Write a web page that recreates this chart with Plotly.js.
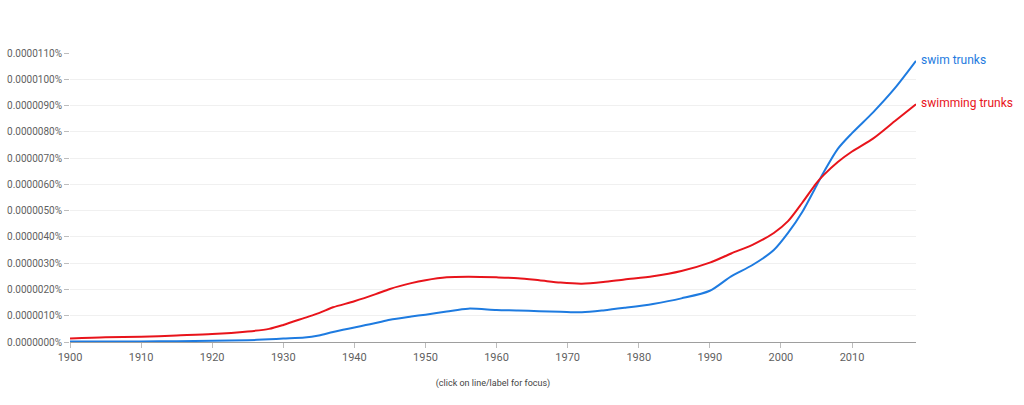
<!DOCTYPE html>
<html>
<head>
<meta charset="utf-8">
<script src="https://cdn.plot.ly/plotly-3.0.1.min.js"></script>
<style>
  html, body { margin: 0; padding: 0; background: #fff; }
  #grafica { width: 1024px; height: 405px; }
</style>
</head>
<body>
<div id="grafica"></div>
<script>
// años
const anios = [1900, 1905, 1910, 1915, 1920, 1925, 1928, 1930, 1933, 1935, 1937, 1940, 1943, 1945, 1948,
    1950, 1953, 1956, 1960, 1963, 1966, 1969, 1972, 1975, 1978, 1982, 1986, 1990, 1993, 1996, 1999,
    2001, 2003, 2005, 2006, 2008, 2010, 2013, 2016, 2019];

// valores en millonésimas de porcentaje (x 1e-6 %)
const swimTrunks = [0.02, 0.02, 0.02, 0.03, 0.05, 0.07, 0.10, 0.13, 0.17, 0.25, 0.38, 0.55, 0.72, 0.85, 0.97,
    1.04, 1.16, 1.27, 1.22, 1.20, 1.17, 1.15, 1.13, 1.20, 1.30, 1.45, 1.66, 1.95, 2.50, 2.93, 3.50,
    4.15, 4.95, 5.95, 6.45, 7.35, 7.95, 8.75, 9.65, 10.70];

const swimmingTrunks = [0.13, 0.18, 0.20, 0.25, 0.30, 0.40, 0.50, 0.65, 0.92, 1.10, 1.32, 1.55, 1.82, 2.02, 2.24,
    2.35, 2.46, 2.48, 2.46, 2.43, 2.35, 2.26, 2.22, 2.28, 2.38, 2.50, 2.70, 3.02, 3.37, 3.70, 4.15,
    4.60, 5.30, 6.05, 6.35, 6.85, 7.25, 7.75, 8.40, 9.05];

const nombres = ['swim trunks', 'swimming trunks'];
const colores = ['#1e7be0', '#e8141b'];
const ticksX = [1900, 1910, 1920, 1930, 1940, 1950, 1960, 1970, 1980, 1990, 2000, 2010];

const escala = 1e-6;
const series = [swimTrunks, swimmingTrunks];

const data = series.map((vals, i) => ({
    type: 'scatter', mode: 'lines',
    x: anios,
    y: vals.map(v => v * escala),
    line: { color: colores[i], width: 2, shape: 'spline', smoothing: 0.8 },
    name: nombres[i],
    hoverinfo: 'skip'
}));

const anotaciones = series.map((vals, i) => ({
    x: anios[anios.length - 1],
    y: vals[vals.length - 1] * escala,
    xref: 'x', yref: 'y',
    text: nombres[i],
    xanchor: 'left', yanchor: 'middle',
    xshift: 3, yshift: 1,
    showarrow: false,
    font: { family: 'Roboto, Arial, sans-serif', size: 12, color: colores[i] }
}));

const layout = {
    width: 1024, height: 405,
    margin: { l: 70, r: 108, t: 53, b: 63 },
    paper_bgcolor: '#fff', plot_bgcolor: '#fff',
    showlegend: false,
    font: { family: 'Roboto, Arial, sans-serif', color: '#5f5f5f' },
    xaxis: {
        range: [1900, 2019],
        tickvals: ticksX,
        ticks: 'outside', ticklen: 5, tickcolor: '#bdbdbd',
        showgrid: false, zeroline: false,
        showline: true, linecolor: '#9e9e9e', linewidth: 1,
        tickfont: { size: 11, color: '#5f5f5f' },
        title: { text: '(click on line/label for focus)', font: { size: 9, color: '#444' }, standoff: 16 }
    },
    yaxis: {
        range: [0, 11e-6],
        dtick: 1e-6,
        tickformat: '.7f', ticksuffix: '%',
        ticks: 'outside', ticklen: 5, tickcolor: '#bdbdbd',
        showgrid: true, gridcolor: '#f0f0f0',
        zeroline: false, showline: false,
        tickfont: { size: 10, color: '#5f5f5f' }
    },
    annotations: anotaciones
};

Plotly.newPlot('grafica', data, layout, { displayModeBar: false, staticPlot: true });
</script>
</body>
</html>
